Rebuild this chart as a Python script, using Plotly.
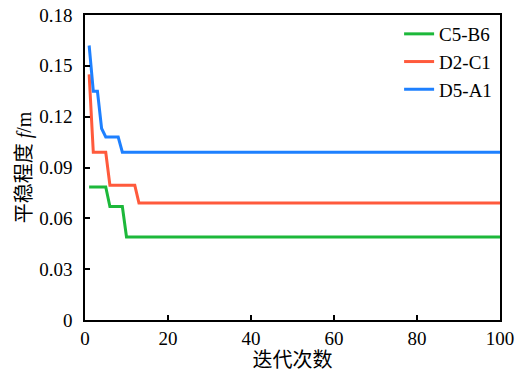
import plotly.graph_objects as go

# Data (iterations where values change)
blue_x = [1, 2, 3, 4, 5, 8, 9, 100]
blue_y = [0.162, 0.135, 0.135, 0.113, 0.108, 0.108, 0.099, 0.099]
red_x = [1, 2, 5, 6, 12, 13, 100]
red_y = [0.145, 0.099, 0.099, 0.0795, 0.0795, 0.069, 0.069]
green_x = [1, 5, 6, 9, 10, 100]
green_y = [0.0785, 0.0785, 0.067, 0.067, 0.049, 0.049]

names = ["C5-B6", "D2-C1", "D5-A1"]
colors = ["#1CB83A", "#FF5A3C", "#1E80FF"]

x_ticks = [0, 20, 40, 60, 80, 100]
y_ticks = [0, 0.03, 0.06, 0.09, 0.12, 0.15, 0.18]
y_ticktext = ["0", "0.03", "0.06", "0.09", "0.12", "0.15", "0.18"]

font_family = "Liberation Serif, Times New Roman, Noto Sans CJK SC, serif"

fig = go.Figure()
for xs, ys, nm, col in zip([green_x, red_x, blue_x], [green_y, red_y, blue_y], names, colors):
    fig.add_trace(go.Scatter(x=xs, y=ys, mode="lines", name=nm,
                             line=dict(color=col, width=3)))

axis_common = dict(showgrid=False, zeroline=False, showline=True, linecolor="black",
                   linewidth=1.5, mirror=True, ticks="inside", ticklen=5,
                   tickwidth=1.5, tickcolor="black", automargin=False,
                   tickfont=dict(family=font_family, size=19, color="black"))

fig.update_layout(
    width=519, height=375,
    margin=dict(l=85, r=19, t=15, b=55),
    plot_bgcolor="white", paper_bgcolor="white",
    font=dict(family=font_family, color="black"),
    showlegend=True,
    legend=dict(x=0.993, y=1.0, xanchor="right", yanchor="top",
                font=dict(family=font_family, size=19, color="black"),
                bgcolor="rgba(0,0,0,0)", tracegroupgap=0),
    xaxis=dict(range=[0, 100], tickvals=x_ticks,
               title=dict(text="迭代次数", font=dict(family=font_family, size=20), standoff=0),
               **axis_common),
    yaxis=dict(range=[0, 0.18], tickvals=y_ticks, ticktext=y_ticktext,
               ticklabelstandoff=7,
               title=dict(text="平稳程度 <i>f</i>/m", font=dict(family=font_family, size=20), standoff=2),
               **axis_common),
)

# remove the default 8px body margin so the figure fills the window exactly
fig.write_html("out.html", config={"displayModeBar": False},
               post_script="document.body.style.margin='0px';")
